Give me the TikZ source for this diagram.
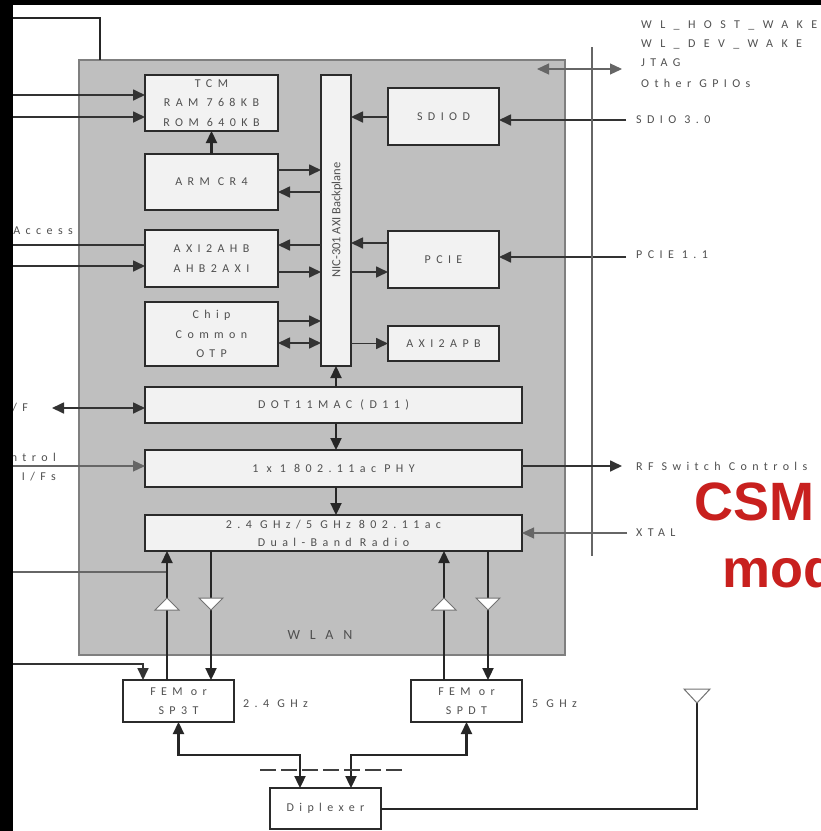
\documentclass[tikz,border=0pt]{standalone}
\usepackage{fontspec}
\setmainfont{Carlito}
\newfontfamily\lsA[LetterSpace=45]{Carlito}
\newfontfamily\lsB[LetterSpace=70]{Carlito}
\newfontfamily\redf{Liberation Sans}
\usetikzlibrary{arrows.meta,calc}
\definecolor{txt}{HTML}{505050}
\definecolor{panel}{HTML}{BFBFBF}
\definecolor{panelb}{HTML}{7F7F7F}
\definecolor{boxf}{HTML}{F2F2F2}
\definecolor{edge}{HTML}{2B2B2B}
\definecolor{redt}{HTML}{C8201E}
\tikzset{
  x=1pt,y=-1pt,
  tip/.style={-{Triangle[length=12pt,width=11pt]}},
  both/.style={{Triangle[length=12pt,width=11pt]}-{Triangle[length=12pt,width=11pt]}},
  thickl/.style={draw=black!85,line width=2.3pt},
  medl/.style={draw=black!80,line width=1.7pt},
  thinl/.style={draw=black!60,line width=1.2pt},
  box/.style={draw=edge,fill=boxf,line width=2.4pt,inner sep=0pt,outer sep=0pt,align=center,text=txt,font=\fontsize{12}{19.5}\lsA},
  whitebox/.style={box,fill=white},
  lab/.style={text=txt,inner sep=0pt,font=\fontsize{12}{19.5}\lsA},
  widelab/.style={text=txt,inner sep=0pt,align=left,font=\fontsize{12}{19.5}\lsB},
  amp/.style={draw=black!55,fill=white,line width=1pt,line join=miter},
  redlab/.style={text=redt,inner sep=0pt,font=\fontsize{54}{60}\redf\bfseries}
}
\begin{document}
\begin{tikzpicture}
\useasboundingbox (0,0) rectangle (821,831);
\fill[white] (0,0) rectangle (821,831);
% panel
\node[draw=panelb,fill=panel,line width=1.5pt,minimum width=486,minimum height=595,inner sep=0pt,outer sep=0pt] (wlan) at (322,357.5) {};
\node[lab,font=\fontsize{14}{16}\lsB] (wlantxt) at (320,635) {WLAN};
% boxes
\node[box,minimum width=133,minimum height=56] (tcm) at (211.5,103) {TCM\\RAM 768KB\\ROM 640KB};
\node[box,minimum width=133,minimum height=56] (arm) at (211.5,182) {ARM CR4};
\node[box,minimum width=133,minimum height=57] (axi) at (211.5,258.5) {AXI2AHB\\AHB2AXI};
\node[box,minimum width=133,minimum height=64] (chip) at (211.5,334) {Chip\\Common\\OTP};
\node[box,minimum width=30,minimum height=291] (nic) at (336,220.5) {};
\node[text=txt,inner sep=0pt,rotate=90,font=\fontsize{12.5}{14}\selectfont] (nictxt) at (337,220) {NIC-301 AXI Backplane};
\node[box,minimum width=111,minimum height=57] (sdiod) at (443.5,116.5) {SDIOD};
\node[box,minimum width=111,minimum height=57] (pcie) at (443.5,259.5) {PCIE};
\node[box,minimum width=111,minimum height=35] (apb) at (443.5,343.5) {AXI2APB};
\node[box,minimum width=377,minimum height=36] (dot) at (333.5,405) {DOT11MAC (D11)};
\node[box,minimum width=377,minimum height=37] (phy) at (333.5,468.5) {1 x 1 802.11ac PHY};
\node[box,minimum width=377,minimum height=36,font=\fontsize{12}{18}\lsA] (radio) at (333.5,533) {2.4 GHz/5 GHz 802.11ac\\Dual-Band Radio};
\node[whitebox,minimum width=111,minimum height=42] (fema) at (178.5,701) {FEM or\\SP3T};
\node[whitebox,minimum width=111,minimum height=42] (femb) at (466.5,701) {FEM or\\SPDT};
\node[whitebox,minimum width=111,minimum height=41] (dip) at (325.5,808.5) {Diplexer};
% free ends
\coordinate (topl) at (13,18);
\coordinate (rama) at (13,95);
\coordinate (romb) at (13,117);
\coordinate (axa) at (13,245);
\coordinate (axb) at (13,266);
\coordinate (ifl) at (52,408);
\coordinate (ctl) at (13,466);
\coordinate (rfl) at (13,572);
\coordinate (feml) at (13,664);
\coordinate (gpl) at (537,69);
\coordinate (gpr) at (622,69);
\coordinate (sdr) at (626,120);
\coordinate (pcr) at (626,257);
\coordinate (rfr) at (622,466);
\coordinate (xtr) at (627,533);
\coordinate (vt) at (592,47);
\coordinate (vb) at (592,556);
\coordinate (dl) at (260,770);
\coordinate (dr) at (403,770);
\coordinate (anta) at (697,703);
% connectors
\draw[thickl] (topl) -| (wlan.north -| 100,0);
\draw[medl,tip] (rama) -- (tcm.west |- rama);
\draw[medl,tip] (romb) -- (tcm.west |- romb);
\draw[thickl,tip] (arm.north) -- (tcm.south);
\draw[medl,tip] (arm.east |- 0,170) -- (nic.west |- 0,170);
\draw[medl,tip] (nic.west |- 0,192) -- (arm.east |- 0,192);
\draw[medl,tip] (nic.west |- 0,245) -- (axi.east |- 0,245);
\draw[medl,tip] (axi.east |- 0,272) -- (nic.west |- 0,272);
\draw[medl,tip] (chip.east |- 0,321) -- (nic.west |- 0,321);
\draw[medl,both] (chip.east |- 0,343) -- (nic.west |- 0,343);
\draw[medl] (axa) -- (axi.west |- axa);
\draw[medl,tip] (axb) -- (axi.west |- axb);
\draw[medl,tip] (sdiod.west |- 0,117) -- (nic.east |- 0,117);
\draw[medl,tip] (sdr) -- (sdiod.east |- sdr);
\draw[medl,tip] (pcie.west |- 0,243) -- (nic.east |- 0,243);
\draw[medl,tip] (nic.east |- 0,272) -- (pcie.west |- 0,272);
\draw[medl,tip] (pcr) -- (pcie.east |- pcr);
\draw[medl,tip] (nic.east |- apb) -- (apb.west);
\draw[thickl,tip] (dot.north -| nic) -- (nic.south);
\draw[thickl,tip] (dot.south -| nic) -- (phy.north -| nic);
\draw[thickl,tip] (phy.south -| nic) -- (radio.north -| nic);
\draw[medl,both] (ifl) -- (dot.west |- ifl);
\draw[thinl,tip] (ctl) -- (phy.west |- ctl);
\draw[thinl] (rfl) -- (167,572);
\draw[thickl,tip] (fema.north -| 167,0) -- (radio.south -| 167,0);
\draw[thickl,tip] (radio.south -| 211,0) -- (fema.north -| 211,0);
\draw[thickl,tip] (femb.north -| 444,0) -- (radio.south -| 444,0);
\draw[thickl,tip] (radio.south -| 488,0) -- (femb.north -| 488,0);
\draw[medl,tip] (feml) -| (fema.north -| 143,0);
\draw[thickl,both] (fema.south) -- ++(0,33) -| (dip.north -| 300,0);
\draw[thickl,both] (femb.south) -- ++(0,33) -| (dip.north -| 351,0);
\draw[line width=1.5pt,draw=black!75,dash pattern=on 16pt off 5pt] (dl) -- (dr);
\draw[thickl] (dip.east |- 0,809) -| (anta);
\draw[thinl] (vt) -- (vb);
\draw[thinl,both] (gpl) -- (gpr);
\draw[medl,tip] (phy.east |- rfr) -- (rfr);
\draw[thinl,tip] (xtr) -- (radio.east |- xtr);
% amplifiers
\draw[amp] (155,610) -- (179,610) -- (167,598) -- cycle;
\draw[amp] (199,598) -- (223,598) -- (211,610) -- cycle;
\draw[amp] (432,610) -- (456,610) -- (444,598) -- cycle;
\draw[amp] (476,598) -- (500,598) -- (488,610) -- cycle;
\draw[amp] (684,689) -- (710,689) -- (anta) -- cycle;
% labels
\node[widelab,anchor=west] (w1) at (641,25) {WL\_HOST\_WAKE};
\node[widelab,anchor=west] (w2) at (641,44) {WL\_DEV\_WAKE};
\node[lab,anchor=west] (w3) at (641,63) {JTAG};
\node[lab,anchor=west] (w4) at (641,83) {Other GPIOs};
\node[lab,anchor=west] (sd) at (636,120) {SDIO 3.0};
\node[lab,anchor=west] (pc) at (636,255) {PCIE 1.1};
\node[lab,anchor=west] (rf) at (636,466) {RF Switch Controls};
\node[lab,anchor=west] (xt) at (636,533) {XTAL};
\node[lab,anchor=east] (acc) at (73,231) {Access};
\node[lab,anchor=east] (vf) at (28,408) {/F};
\node[lab,anchor=east] (ntr) at (56,457) {ntrol};
\node[lab,anchor=east] (ifs) at (56,477) {I/Fs};
\node[lab,anchor=west] (g24) at (243,704) {2.4 GHz};
\node[lab,anchor=west] (g5) at (532,704) {5 GHz};
\node[redlab,anchor=base west] (csm) at (694,520) {CSM};
\node[redlab,anchor=base west] (mod) at (722,587) {mod};
% frame
\fill[black] (0,0) rectangle (821,5);
\fill[black] (0,0) rectangle (13,831);
\end{tikzpicture}
\end{document}
